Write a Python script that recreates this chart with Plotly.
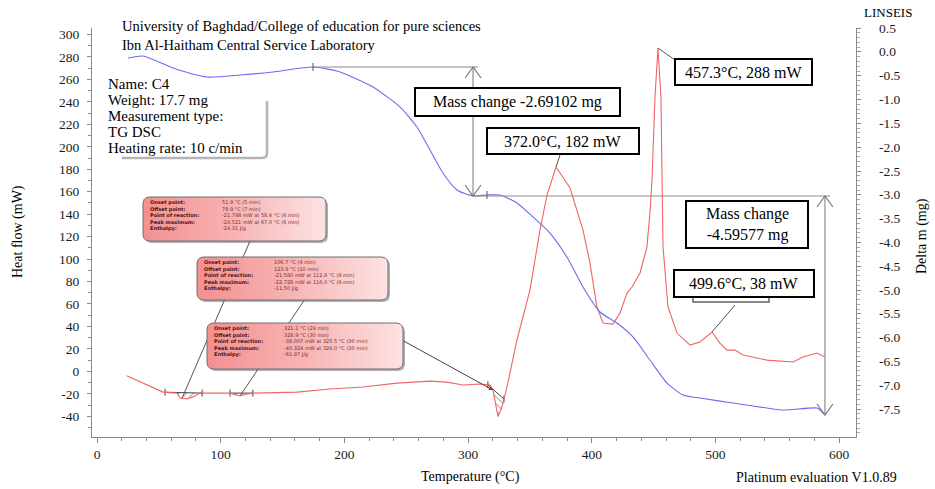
import numpy as np
import plotly.graph_objects as go

# ---------------- data ----------------
temp_hf = [24.0, 40.4, 53.4, 64.7, 67.1, 72.8, 77.6, 83.3, 93.8, 107.5, 115.6, 121.3, 126.1,
           161.7, 188.4, 215.0, 242.5, 269.2, 282.9, 295.9, 309.6, 317.7, 320.1, 324.2, 327.4,
           331.4, 339.5, 350.0, 358.1, 363.8, 371.1, 382.4, 392.9, 398.5, 404.2, 409.1, 417.1,
           422.8, 428.5, 432.5, 439.0, 444.6, 447.0, 448.7, 451.1, 453.5, 455.9, 456.7, 457.6,
           461.6, 468.9, 479.4, 487.5, 497.2, 503.6, 509.3, 515.8, 522.2, 541.6, 562.7, 570.7,
           582.1, 588.5]
heat_flow = [-4.0, -12.3, -18.5, -19.4, -23.8, -24.7, -22.9, -19.4, -19.4, -19.4, -22.0, -20.2, -19.4,
             -18.5, -15.8, -14.0, -10.5, -8.7, -9.6, -12.2, -11.3, -12.2, -16.7, -40.3, -31.8,
             -14.0, 27.9, 72.4, 125.8, 157.0, 182.0, 163.3, 125.8, 96.4, 57.3, 43.0, 42.1,
             51.9, 69.7, 75.1, 87.6, 110.7, 141.0, 170.4, 244.3, 288.0, 244.3, 170.4, 110.7,
             57.3, 34.1, 23.4, 26.1, 35.0, 25.2, 18.9, 18.9, 14.5, 10.0, 8.3, 12.7,
             16.3, 12.7]

temp_m = [25.1, 37.2, 61.4, 88.9, 115.6, 142.3, 174.6, 196.4, 223.1, 244.9, 258.7, 269.2, 279.7,
          291.0, 304.0, 315.3, 325.8, 339.5, 352.5, 366.2, 379.9, 392.9, 406.6, 420.4, 433.3,
          447.0, 460.8, 473.7, 487.5, 514.1, 541.6, 554.6, 582.1, 584.5, 588.5]
delta_m = [-0.126, -0.084, -0.336, -0.525, -0.483, -0.420, -0.315, -0.420, -0.735, -1.155, -1.576,
           -2.059, -2.542, -2.899, -3.025, -3.004, -3.004, -3.172, -3.466, -3.803, -4.307, -4.937,
           -5.462, -5.693, -5.987, -6.471, -6.954, -7.206, -7.269, -7.374, -7.479, -7.521, -7.479,
           -7.521, -7.626]

x_ticks = [0, 100, 200, 300, 400, 500, 600]
hf_ticks = [300, 280, 260, 240, 220, 200, 180, 160, 140, 120, 100, 80, 60, 40, 20, 0, -20, -40]
m_ticks = [0.5, 0.0, -0.5, -1.0, -1.5, -2.0, -2.5, -3.0, -3.5, -4.0, -4.5, -5.0, -5.5, -6.0,
           -6.5, -7.0, -7.5]

# mass-change steps (temperatures of the evaluation limits)
mass_steps_T = [174.6, 304.0, 588.5]
mass_change_texts = ["Mass change -2.69102 mg", "Mass change<br>-4.59577 mg"]

# peak labels
peak_T = [371.1, 453.5, 497.2]
peak_texts = ["372.0°C, 182 mW", "457.3°C, 288 mW", "499.6°C, 38 mW"]

# DSC evaluation boxes
dsc_labels = ["Onset point:", "Offset point:", "Point of reaction:", "Peak maximum:", "Enthalpy:"]
dsc_values = [
    ["51.9 °C (5 min)", "78.9 °C (7 min)", "-21.798 mW at 58.4 °C (6 min)",
     "-24.521 mW at 67.0 °C (6 min)", "-24.31 J/g"],
    ["106.7 °C (9 min)", "123.9 °C (10 min)", "-21.580 mW at 112.8 °C (9 min)",
     "-22.728 mW at 116.0 °C (9 min)", "-11.50 J/g"],
    ["321.1 °C (29 min)", "328.9 °C (30 min)", "-38.007 mW at 325.5 °C (30 min)",
     "-40.324 mW at 326.0 °C (30 min)", "-61.97 J/g"],
]
hatch_ranges = [(55.0, 85.0), (107.5, 126.0), (316.0, 329.0)]
dsc_targets_T = [68.7, 115.6, 320.1]

info_lines = ["Name: C4", "Weight: 17.7 mg", "Measurement type:", "TG DSC", "Heating rate: 10 c/min"]

# ---------------- geometry ----------------
W, H = 935, 489
L, R, T, B = 92, 79, 28, 52
PW, PH = W - L - R, H - T - B
XR = [-4.04, 613.6]
YR = [-58.5, 305.8]
Y2R = [-8.088, 0.504]
SERIF = "Liberation Serif"
SANS = "DejaVu Sans"
AX = "#8a8a8a"

def pxx(px):
    return (px - L) / PW

def pxy(py):
    return (H - B - py) / PH

def dxp(t):
    return (t - XR[0]) / (XR[1] - XR[0])

def dyp(v):
    return (v - YR[0]) / (YR[1] - YR[0])

def px2dx(px):
    return XR[0] + (px - L) / PW * (XR[1] - XR[0])

def px2dy(py):
    return YR[0] + (H - B - py) / PH * (YR[1] - YR[0])

hf_at = lambda t: float(np.interp(t, temp_hf, heat_flow))
m_at = lambda t: float(np.interp(t, temp_m, delta_m))

fig = go.Figure()

# hatched DSC peak areas
for k, (a, b) in enumerate(hatch_ranges):
    ts = np.linspace(a, b, 40)
    ys = np.interp(ts, temp_hf, heat_flow)
    base = np.linspace(ys[0], ys[-1], len(ts))
    fig.add_trace(go.Scatter(
        x=list(ts) + list(ts[::-1]), y=list(ys) + list(base[::-1]),
        fill="toself", mode="lines", line=dict(width=0),
        fillcolor="rgba(255,255,255,0)",
        fillpattern=dict(shape="\\" if k == 2 else "/", fgcolor="#333", bgcolor="rgba(0,0,0,0)",
                         size=5, solidity=0.18),
        hoverinfo="skip", showlegend=False))
    fig.add_trace(go.Scatter(x=[a, b], y=[ys[0], ys[-1]], mode="lines+markers",
                             line=dict(color="#444", width=1),
                             marker=dict(symbol="line-ns", size=5, line=dict(width=1, color="#444")),
                             hoverinfo="skip", showlegend=False))

# curves
fig.add_trace(go.Scatter(x=temp_m, y=delta_m, yaxis="y2", mode="lines",
                         line=dict(color="#6c6cf0", width=1.1, shape="spline", smoothing=0.6),
                         hoverinfo="skip", showlegend=False))
fig.add_trace(go.Scatter(x=temp_hf, y=heat_flow, mode="lines",
                         line=dict(color="#f06464", width=1.1), hoverinfo="skip", showlegend=False))

# DSC boxes (rounded, pink gradient)
def rounded(x0, y0, x1, y1, r=6, n=6):
    xs, ys = [], []
    corners = [(x1 - r, y0 + r, -90, 0), (x1 - r, y1 - r, 0, 90),
               (x0 + r, y1 - r, 90, 180), (x0 + r, y0 + r, 180, 270)]
    for cx, cy, a0, a1 in corners:
        for a in np.linspace(np.radians(a0), np.radians(a1), n):
            xs.append(cx + r * np.cos(a))
            ys.append(cy + r * np.sin(a))
    xs.append(xs[0]); ys.append(ys[0])
    return np.array(xs), np.array(ys)

dsc_box_px = [(143, 197, 326, 241), (197, 257, 388, 300), (207, 323, 403, 369)]
shapes = []
# connectors from DSC boxes (below traces so that boxes hide them)
conn_start = [(250, 241), (305, 299)]
for k in range(2):
    sx, sy = conn_start[k]
    tx = dsc_targets_T[k]
    shapes.append(dict(type="line", xref="paper", yref="paper", layer="below",
                       x0=pxx(sx), y0=pxy(sy), x1=dxp(tx), y1=dyp(hf_at(tx)),
                       line=dict(color="#555", width=1)))

for (x0, y0, x1, y1) in dsc_box_px:
    sxs, sys_ = rounded(x0 + 2, y0 + 2, x1 + 2, y1 + 2)
    fig.add_trace(go.Scatter(x=[px2dx(v) for v in sxs], y=[px2dy(v) for v in sys_],
                             fill="toself", mode="lines", line=dict(width=0),
                             fillcolor="rgba(80,80,80,0.45)", hoverinfo="skip", showlegend=False))
    xs, ys = rounded(x0, y0, x1, y1)
    fig.add_trace(go.Scatter(x=[px2dx(v) for v in xs], y=[px2dy(v) for v in ys],
                             fill="toself", mode="lines", line=dict(color="#6e6e6e", width=1),
                             fillgradient=dict(type="horizontal",
                                               colorscale=[[0, "#f39090"], [0.5, "#f8b4b4"], [1, "#fde2e2"]]),
                             hoverinfo="skip", showlegend=False))

annotations = []
for k, (x0, y0, x1, y1) in enumerate(dsc_box_px):
    vx = x0 + (77 if k == 0 else 75)
    yc = y0 + 18.5
    annotations.append(dict(xref="paper", yref="paper", x=pxx(x0 + 5), y=pxy(yc),
                            xanchor="left", yanchor="middle", showarrow=False, align="left",
                            text="<br>".join("<b>" + s + "</b>" for s in dsc_labels),
                            font=dict(family=SANS, size=5.0, color="#4a1414")))
    annotations.append(dict(xref="paper", yref="paper", x=pxx(vx), y=pxy(yc),
                            xanchor="left", yanchor="middle", showarrow=False, align="left",
                            text="<br>".join(dsc_values[k]),
                            font=dict(family=SANS, size=5.0, color="#7a2b2b")))

# box C arrow to the 320 °C dip
tC = dsc_targets_T[2]
annotations.append(dict(x=tC, y=hf_at(tC), xref="x", yref="y", ax=-91, ay=-50, text="",
                        showarrow=True, arrowhead=2, arrowsize=0.8, arrowwidth=1, arrowcolor="#444"))

# mass-change construction lines
m1, m2, m3 = m_at(mass_steps_T[0]), m_at(mass_steps_T[1]), m_at(mass_steps_T[2])
t1, t2, t3 = mass_steps_T
line_style = dict(color="#8c8c8c", width=1.2)
shapes += [
    dict(type="line", xref="x", yref="y2", x0=t1, x1=t2 + 4, y0=m1, y1=m1, line=line_style, layer="above"),
    dict(type="line", xref="x", yref="y2", x0=t2, x1=t2, y0=m1, y1=m2, line=line_style, layer="above"),
    dict(type="line", xref="x", yref="y2", x0=t2, x1=t3 + 4, y0=m2, y1=m2, line=line_style, layer="above"),
    dict(type="line", xref="x", yref="y2", x0=t3, x1=t3, y0=m2, y1=m3, line=line_style, layer="above"),
]
for (tt, mm, up) in [(t2, m1, True), (t2, m2, False), (t3, m2, True), (t3, m3, False)]:
    p = "M -8,-11 L 0,0 L 8,-11" if up else "M -8,11 L 0,0 L 8,11"
    shapes.append(dict(type="path", xref="x", yref="y2", xsizemode="pixel", ysizemode="pixel",
                       xanchor=tt, yanchor=mm, path=p, line=dict(color="#777", width=1.2), layer="above"))
for tt in [t1, 315.3]:
    shapes.append(dict(type="line", xref="x", yref="y2", ysizemode="pixel", yanchor=m_at(tt),
                       x0=tt, x1=tt, y0=-4, y1=4, line=dict(color="#555", width=1), layer="above"))

# peak connectors
peak_conn = [(560, 155), (675, 60), (735, 305)]
for k, tt in enumerate(peak_T):
    sx, sy = peak_conn[k]
    shapes.append(dict(type="line", xref="paper", yref="paper", layer="above",
                       x0=pxx(sx), y0=pxy(sy), x1=dxp(tt), y1=dyp(hf_at(tt)),
                       line=dict(color="#555", width=1)))

# small grey frame behind the 499.6 label
shapes.append(dict(type="rect", xref="paper", yref="paper", layer="above",
                   x0=pxx(693), x1=pxx(769), y0=pxy(302), y1=pxy(295),
                   line=dict(color="#666", width=1.5), fillcolor="white"))

# text boxes
text_boxes = [
    ((415, 88, 620, 116), mass_change_texts[0]),
    ((487, 128, 639, 154), peak_texts[0]),
    ((675, 59, 812, 85), peak_texts[1]),
    ((686, 201, 808, 248), mass_change_texts[1]),
    ((674, 270, 814, 297), peak_texts[2]),
]
for (x0, y0, x1, y1), txt in text_boxes:
    shapes.append(dict(type="rect", xref="paper", yref="paper", layer="above",
                       x0=pxx(x0), x1=pxx(x1), y0=pxy(y1), y1=pxy(y0),
                       line=dict(color="black", width=2), fillcolor="white"))
    annotations.append(dict(xref="paper", yref="paper", x=pxx((x0 + x1) / 2), y=pxy((y0 + y1) / 2),
                            xanchor="center", yanchor="middle", showarrow=False, text=txt,
                            font=dict(family=SERIF, size=16, color="black")))

# info box shadow frame
shapes.append(dict(type="path", xref="paper", yref="paper", layer="above",
                   path=f"M {pxx(122)},{pxy(158)} L {pxx(262)},{pxy(158)} "
                        f"Q {pxx(267)},{pxy(158)} {pxx(267)},{pxy(153)} L {pxx(267)},{pxy(101)}",
                   line=dict(color="#b5b5b5", width=2.5)))

for j, s in enumerate(info_lines):
    annotations.append(dict(xref="paper", yref="paper", x=pxx(107), y=pxy(84 + j * 16),
                            xanchor="left", yanchor="middle", showarrow=False, text=s,
                            borderpad=0,
                            font=dict(family=SERIF, size=15, color="black")))

tickfont = dict(family=SERIF, size=13.5, color="#1a1a1a")

# right-axis tick labels
for v in m_ticks:
    annotations.append(dict(xref="paper", yref="y2", x=pxx(877), y=v, xanchor="left",
                            yanchor="middle", showarrow=False, text=f"{v:.1f}", font=tickfont))

# header texts
annotations += [
    dict(xref="paper", yref="paper", x=pxx(120), y=pxy(35.5), xanchor="left", yanchor="middle",
         showarrow=False, align="left",
         text="University of Baghdad/College of education for pure sciences<br>"
              "Ibn Al-Haitham Central Service Laboratory",
         font=dict(family=SERIF, size=14.5, color="black")),
    dict(xref="paper", yref="paper", x=pxx(888), y=pxy(12), xanchor="center", yanchor="middle",
         showarrow=False, text="LINSEIS", font=dict(family=SERIF, size=13, color="black")),
    dict(xref="paper", yref="paper", x=pxx(18), y=pxy(232), xanchor="center", yanchor="middle",
         showarrow=False, text="Heat flow (mW)", textangle=-90,
         font=dict(family=SERIF, size=14, color="black")),
    dict(xref="paper", yref="paper", x=pxx(922), y=pxy(236), xanchor="center", yanchor="middle",
         showarrow=False, text="Delta m (mg)", textangle=-90,
         font=dict(family=SERIF, size=14, color="black")),
    dict(xref="paper", yref="paper", x=pxx(470), y=pxy(477), xanchor="center", yanchor="middle",
         showarrow=False, text="Temperature (°C)", font=dict(family=SERIF, size=14, color="black")),
    dict(xref="paper", yref="paper", x=pxx(734), y=pxy(477), xanchor="left", yanchor="middle",
         showarrow=False, text="Platinum evaluation V1.0.89",
         font=dict(family=SERIF, size=14, color="black")),
]

fig.update_layout(
    width=W, height=H, margin=dict(l=L, r=R, t=T, b=B, pad=0),
    paper_bgcolor="white", plot_bgcolor="white", showlegend=False,
    xaxis=dict(range=XR, tickmode="array", tickvals=x_ticks, ticktext=[str(v) for v in x_ticks],
               ticks="outside", ticklen=5, tickcolor=AX, showline=True, linecolor=AX, linewidth=1,
               showgrid=False, zeroline=False, tickfont=tickfont,
               minor=dict(tick0=0, dtick=20, ticks="outside", ticklen=3, tickcolor=AX)),
    yaxis=dict(range=YR, tickmode="array", tickvals=hf_ticks, ticktext=[str(v) for v in hf_ticks],
               ticks="outside", ticklen=4, tickcolor=AX, showline=True, linecolor=AX, linewidth=1,
               showgrid=False, zeroline=False, tickfont=tickfont, ticklabelstandoff=5,
               minor=dict(tick0=0, dtick=10, ticks="outside", ticklen=3, tickcolor=AX)),
    yaxis2=dict(range=Y2R, overlaying="y", side="right", anchor="x", tickmode="array",
                tickvals=m_ticks, showticklabels=False,
                ticks="outside", ticklen=4, tickcolor=AX, showline=True, linecolor=AX, linewidth=1,
                showgrid=False, zeroline=False,
                minor=dict(tick0=0, dtick=0.1, ticks="outside", ticklen=3, tickcolor="#aaa")),
    shapes=shapes, annotations=annotations,
)

fig.write_html("out.html")
